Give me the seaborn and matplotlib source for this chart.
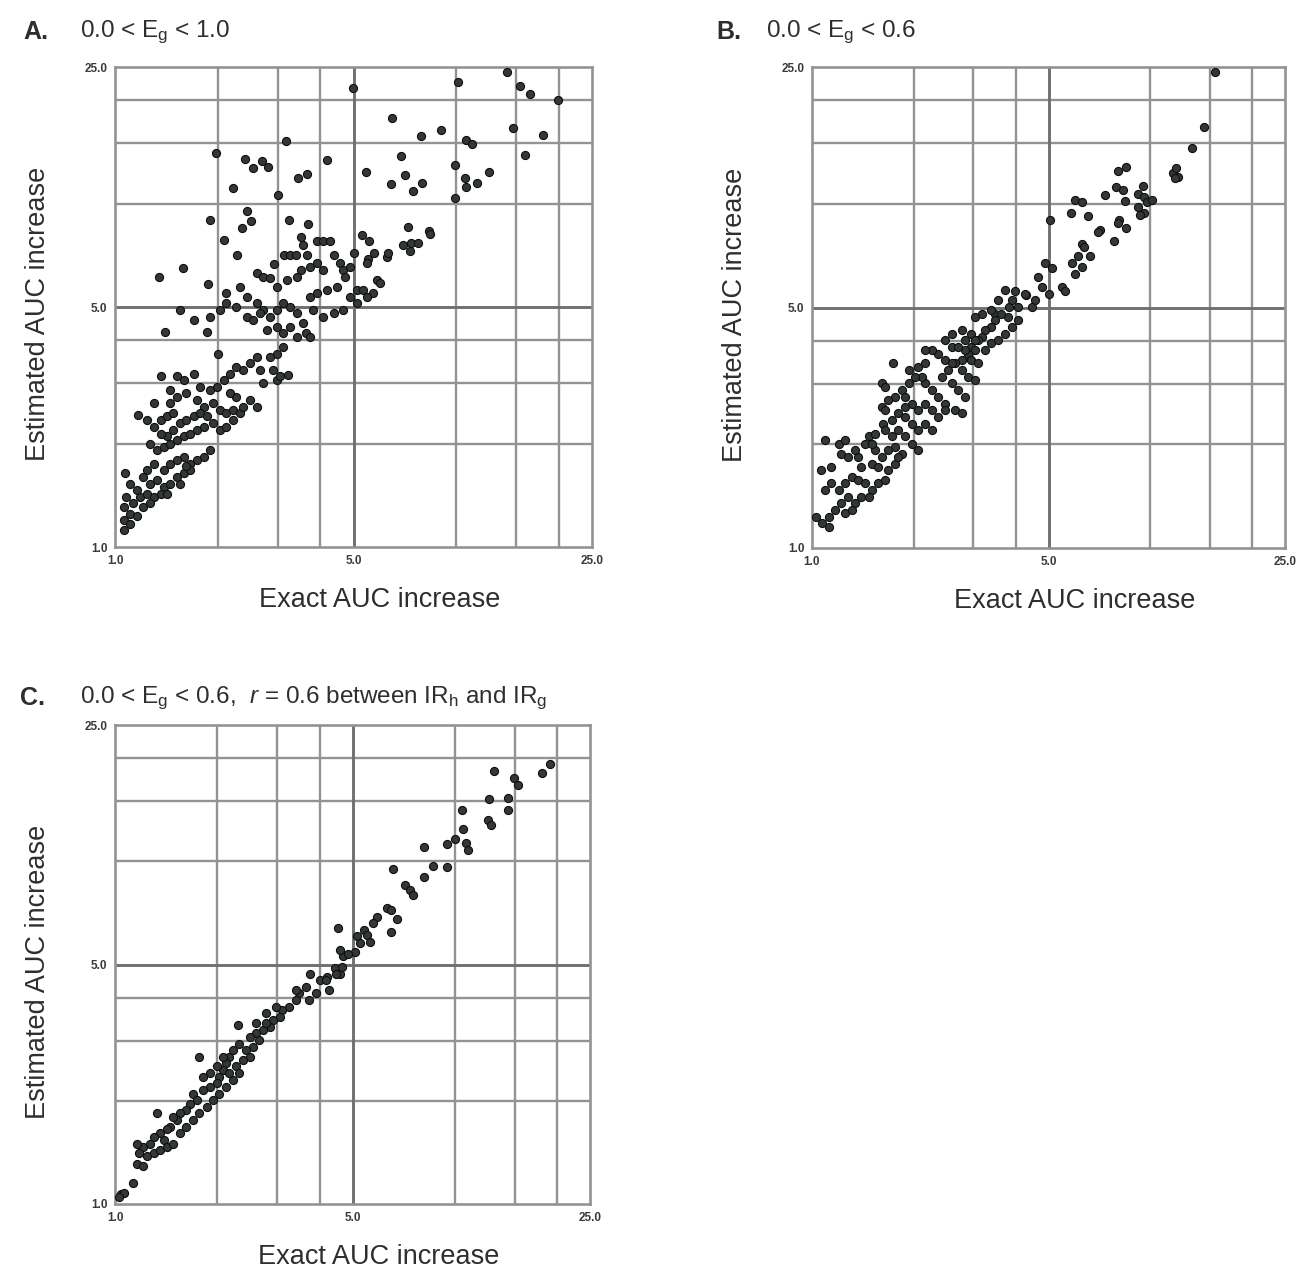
import numpy as np
import pandas as pd
import matplotlib
matplotlib.use('Agg')
import matplotlib.pyplot as plt
import seaborn as sns

sns.set_theme(style='white')
plt.rcParams['font.family'] = ['Liberation Sans', 'DejaVu Sans']
plt.rcParams['mathtext.fontset'] = 'custom'
plt.rcParams['mathtext.rm'] = 'Liberation Sans'
plt.rcParams['mathtext.it'] = 'Liberation Sans:italic'

# ---- panel A: 0.0 < Eg < 1.0 ----
a_exact = [4.97, 10.1, 14.1, 15.4, 16.5, 19.9, 6.5, 9.0, 7.9, 14.7, 18.0, 10.7, 11.1, 15.9,
           3.17, 1.98, 2.40, 2.54, 2.69, 2.81, 4.17, 3.44, 3.65, 5.43, 6.9, 7.06, 6.45, 7.45,
           7.95, 9.9, 10.6, 10.7, 11.5, 12.5, 9.9, 2.21, 3.0, 1.90, 2.43, 2.51, 2.36, 3.24,
           3.68, 2.09, 2.28, 1.35, 1.58, 1.87, 7.23, 8.35, 8.4,
           6.99, 7.39, 7.74, 7.30, 5.28, 5.56, 3.90, 4.08, 4.27, 3.52, 3.55, 3.12, 3.26, 3.40,
           3.65, 4.37, 5.0, 5.52, 5.74, 5.47, 6.27, 6.32, 2.92, 2.60, 2.72,
           2.85, 2.98, 3.19, 3.41, 3.52, 3.73, 3.90, 4.08, 4.56, 4.67, 4.72, 4.88, 4.46, 4.17,
           3.90, 3.73, 4.88, 5.11, 5.34, 5.84, 5.98, 5.71, 5.47, 5.11, 4.67, 4.37, 4.08, 3.81,
           3.56, 3.41, 3.26, 3.11, 2.98, 2.85, 2.72, 2.60, 2.43, 2.32, 2.12, 2.27, 1.90, 2.03,
           2.12, 1.55, 1.70, 1.86, 1.40, 2.01, 2.43, 2.54, 2.66, 2.78, 2.98, 3.11, 3.26, 3.41,
           3.64, 3.73, 3.11, 2.98, 2.85, 2.60, 2.66, 2.91, 2.98, 2.72, 3.22, 3.05, 2.49, 2.38,
           2.27, 2.17, 2.08, 1.99, 1.90, 1.77, 1.70, 1.59, 1.52, 1.36, 1.45, 1.52, 1.62, 1.74,
           1.82, 1.94, 2.03, 2.12, 2.22, 2.32, 2.38, 2.27, 2.17, 2.49, 2.60, 1.30, 1.45, 1.17,
           1.24, 1.30, 1.36, 1.42, 1.48, 1.55, 1.62, 1.70, 1.77, 1.86, 1.94, 2.03, 2.12, 2.22,
           1.48, 1.42, 1.36, 1.27, 1.33, 1.39, 1.45, 1.52, 1.59, 1.66, 1.74, 1.82, 1.90, 1.82,
           1.74, 1.66, 1.59, 1.52, 1.45, 1.39, 1.30, 1.24, 1.21, 1.27, 1.33, 1.39, 1.45, 1.52,
           1.59, 1.66, 1.55, 1.07, 1.11, 1.16, 1.08, 1.13, 1.18, 1.24, 1.30, 1.36, 1.06, 1.11,
           1.16, 1.06, 1.11, 1.06, 1.21, 1.27, 1.42, 1.62]
a_est = [21.7, 22.6, 24.1, 22.0, 20.8, 20.0, 17.8, 16.4, 15.7, 16.6, 15.8, 15.3, 14.9, 13.9,
         15.2, 14.0, 13.5, 12.7, 13.3, 12.8, 13.4, 11.9, 12.2, 12.4, 13.8, 12.1, 11.4, 10.9,
         11.5, 13.0, 11.9, 11.2, 11.5, 12.4, 10.4, 11.1, 10.6, 8.96, 9.5, 8.9, 8.5, 8.96,
         8.75, 7.86, 7.08, 6.13, 6.5, 5.84, 8.56, 8.35, 8.16,
         7.58, 7.66, 7.66, 7.26, 8.1, 7.76, 7.76, 7.76, 7.76, 8.0, 7.6, 7.08, 7.08, 7.08,
         7.08, 7.08, 7.17, 6.9, 7.17, 6.7, 7.0, 7.2, 6.68, 6.27, 6.13,
         6.06, 5.73, 5.99, 6.13, 6.41, 6.56, 6.71, 6.41, 6.71, 6.41, 6.13, 6.56, 5.73, 5.60,
         5.48, 5.36, 5.36, 5.60, 5.60, 5.99, 5.86, 5.48, 5.36, 5.13, 4.90, 4.79, 4.69, 4.90,
         4.48, 4.79, 5.01, 5.13, 4.90, 4.69, 4.90, 5.13, 5.36, 5.73, 5.48, 5.01, 4.69, 4.90,
         5.13, 4.90, 4.58, 4.24, 4.24, 3.66, 4.69, 4.58, 4.79, 4.28, 4.38, 4.19, 4.38, 4.10,
         4.19, 4.10, 3.83, 3.66, 3.58, 3.58, 3.28, 3.28, 3.07, 3.00, 3.17, 3.14, 3.43, 3.28,
         3.35, 3.20, 3.07, 2.93, 2.87, 2.93, 3.20, 3.07, 3.14, 3.14, 2.87, 2.74, 2.80, 2.68,
         2.56, 2.62, 2.51, 2.45, 2.51, 2.45, 2.56, 2.74, 2.80, 2.68, 2.56, 2.62, 2.62, 2.42,
         2.34, 2.24, 2.34, 2.40, 2.45, 2.29, 2.34, 2.40, 2.45, 2.40, 2.29, 2.19, 2.24, 2.34,
         2.19, 2.10, 2.14, 2.00, 1.92, 1.96, 2.00, 2.05, 2.10, 2.14, 2.19, 2.24, 1.92, 1.83,
         1.79, 1.75, 1.83, 1.79, 1.75, 1.68, 1.75, 1.68, 1.60, 1.53, 1.57, 1.50, 1.53, 1.60,
         1.64, 1.68, 1.53, 1.64, 1.53, 1.47, 1.40, 1.34, 1.40, 1.43, 1.40, 1.43, 1.31, 1.25,
         1.23, 1.20, 1.17, 1.12, 1.31, 1.34, 1.43, 1.72]

# ---- panel B: 0.0 < Eg < 0.6 ----
b_exact = [15.5, 14.4, 13.3, 11.7, 11.9, 12.1, 11.8, 8.04, 8.5, 7.94, 8.3, 9.5, 9.2, 9.6,
           9.8, 9.2, 9.6, 9.3, 10.1, 8.4, 7.35, 5.99, 6.27, 5.83, 6.55, 5.05, 8.1, 8.04,
           8.5, 7.1, 7.0, 7.8, 6.27, 6.35, 6.13, 6.62, 5.85, 6.27, 6.0, 5.48, 5.6,
           4.88, 5.11, 4.67, 4.77, 5.0, 4.55, 4.46, 3.98, 4.3, 3.81, 3.47,
           3.89, 4.07, 4.26, 3.71, 3.80, 3.55,
           3.63, 3.47, 3.39, 3.24, 3.17, 3.10, 2.96, 3.03, 2.90, 2.77, 2.83, 2.96, 3.10, 3.24,
           3.39, 3.55, 3.71, 3.89, 4.07, 2.47, 2.59, 2.70, 2.36, 2.47, 2.64, 2.77, 2.90, 3.03,
           2.53, 2.42, 2.59, 2.70, 2.83, 2.64, 2.77, 2.47, 2.36, 2.26, 2.16, 2.06, 2.16, 2.11,
           1.74, 1.61, 1.64, 1.84, 1.88, 1.61, 1.64, 1.62, 1.97, 2.06, 2.16, 2.26, 2.36, 2.47,
           1.88, 1.97, 2.06, 2.16, 2.26, 1.80, 1.72, 1.88, 1.97, 2.06, 1.84, 1.76, 1.68, 1.61,
           1.54, 1.47, 1.43, 1.50, 1.57, 1.68, 1.76, 1.80, 1.37, 1.40, 1.31, 1.37, 1.43, 1.50,
           1.57, 1.64, 1.25, 1.20, 1.14, 1.09, 1.28, 1.34, 1.40, 1.47, 1.22, 1.17, 1.12, 1.07,
           1.12, 1.03, 1.25, 1.31, 1.09, 1.20, 1.25, 1.22, 1.06, 1.14, 1.28, 1.50, 1.54, 1.34,
           1.64, 1.72, 1.80, 1.88, 1.76, 1.68, 1.93, 2.02, 1.93, 2.26, 2.16, 2.59, 2.77, 2.96,
           3.03, 2.83, 2.59, 3.39, 3.17, 3.03]
b_est = [24.2, 16.7, 14.5, 12.3, 12.7, 12.0, 11.9, 12.5, 12.8, 11.2, 11.0, 11.3, 10.7, 10.5,
         10.1, 9.8, 9.4, 9.3, 10.3, 10.2, 10.6, 10.3, 10.1, 9.4, 9.2, 9.0, 9.0, 8.8,
         8.5, 8.4, 8.3, 7.8, 7.67, 7.5, 7.06, 7.06, 6.72, 6.57, 6.27, 5.75, 5.6,
         6.72, 6.5, 6.14, 5.75, 5.48, 5.25, 5.02, 5.6, 5.43, 5.02, 4.8,
         5.25, 5.02, 5.49, 5.61, 4.69, 5.25,
         4.78, 4.59, 4.39, 4.29, 4.11, 4.02, 3.84, 3.76, 3.67, 3.51, 3.76, 3.51, 3.44, 3.76,
         3.93, 4.02, 4.20, 4.39, 4.59, 4.02, 3.84, 3.84, 3.67, 3.51, 3.44, 3.29, 3.14, 3.08,
         3.29, 3.14, 3.01, 2.88, 2.75, 2.52, 2.46, 2.63, 2.75, 2.88, 3.01, 3.36, 3.44, 3.14,
         3.44, 3.01, 2.94, 2.88, 2.75, 2.57, 2.52, 2.30, 2.63, 2.52, 2.63, 2.52, 2.41, 2.52,
         2.41, 2.30, 2.20, 2.30, 2.20, 2.20, 2.11, 2.11, 2.01, 1.93, 1.88, 1.97, 1.93, 1.84,
         1.93, 2.11, 2.01, 1.76, 1.72, 1.69, 1.76, 1.84, 1.84, 1.72, 1.61, 1.58, 1.54, 1.47,
         1.54, 1.58, 1.54, 1.47, 1.54, 1.47, 1.41, 1.35, 1.41, 1.41, 1.35, 1.29, 1.23, 1.18,
         1.15, 1.23, 1.26, 1.29, 2.06, 2.01, 2.06, 1.88, 1.69, 1.72, 1.84, 2.01, 2.15, 1.93,
         2.20, 2.35, 2.46, 2.57, 2.75, 2.69, 3.01, 3.14, 3.29, 3.76, 3.76, 4.20, 4.29, 4.20,
         4.02, 4.02, 3.44, 4.91, 4.80, 4.69]

# ---- panel C: 0.0 < Eg < 0.6, r = 0.6 between IRh and IRg ----
c_exact = [19.0, 18.1, 13.0, 14.9, 15.3, 12.6, 14.3, 14.3, 12.5, 12.8, 10.5, 10.6, 10.0, 9.5,
           10.8, 10.9, 8.1, 8.6, 9.5, 8.1, 6.6, 7.15, 7.4, 7.55, 6.33, 6.5, 6.74, 6.5,
           5.9, 5.75, 4.53, 5.16, 5.39, 5.5, 5.63, 5.26, 5.08, 4.70, 4.85, 4.6, 4.45, 4.6,
           4.2, 4.0, 3.76,
           3.64, 3.49, 3.41, 3.26, 3.11, 2.98, 3.05, 2.91, 2.78, 2.85, 2.72, 2.60, 2.66, 2.54,
           2.43, 2.49, 2.38, 2.30, 2.27, 2.17, 2.12, 2.08, 2.17, 2.03, 1.99, 1.90, 1.82, 1.77,
           1.70, 1.74, 1.66, 1.62, 1.55, 1.52, 1.48, 1.45, 1.42, 1.36, 1.33, 1.39, 1.30, 1.27,
           1.21, 1.16, 1.18, 1.24, 1.30, 1.36, 1.42, 1.48, 1.55, 1.62, 1.70, 1.77, 1.86, 1.94,
           2.03, 2.12, 2.22, 2.32, 1.16, 1.21, 1.13, 1.04, 1.06, 1.03, 1.90, 1.82, 1.99, 2.08,
           2.22, 2.32, 2.49, 2.60, 2.78, 3.41, 3.73, 3.90, 4.27, 4.17, 4.46, 4.67]
c_est = [19.3, 18.1, 18.3, 17.5, 16.7, 15.2, 15.3, 14.1, 13.2, 12.8, 14.1, 12.4, 11.6, 11.2,
         11.3, 10.8, 11.0, 9.7, 9.6, 9.0, 9.5, 8.55, 8.27, 7.99, 7.3, 7.2, 6.8, 6.2,
         6.9, 6.6, 6.4, 6.04, 6.3, 6.1, 5.82, 5.77, 5.45, 5.3, 5.37, 5.5, 4.9, 4.7,
         4.6, 4.5, 4.7,
         4.30, 4.12, 3.94, 3.76, 3.68, 3.76, 3.52, 3.44, 3.60, 3.29, 3.22, 3.15, 3.01, 2.88,
         2.82, 2.69, 2.63, 3.33, 2.52, 2.69, 2.58, 2.46, 2.41, 2.35, 2.25, 2.20, 2.15, 2.69,
         2.10, 2.01, 1.96, 1.88, 1.84, 1.76, 1.80, 1.68, 1.65, 1.61, 1.84, 1.54, 1.57, 1.50,
         1.47, 1.50, 1.41, 1.38, 1.41, 1.44, 1.47, 1.50, 1.61, 1.68, 1.76, 1.84, 1.92, 2.01,
         2.10, 2.20, 2.30, 2.41, 1.31, 1.29, 1.15, 1.07, 1.08, 1.05, 2.41, 2.35, 2.52, 2.69,
         2.82, 2.94, 3.08, 3.37, 3.37, 4.21, 3.94, 4.12, 4.21, 4.50, 4.70, 4.93]

panels = [
    ('A.', r'0.0 < E$_\mathregular{g}$ < 1.0', a_exact, a_est),
    ('B.', r'0.0 < E$_\mathregular{g}$ < 0.6', b_exact, b_est),
    ('C.', r'0.0 < E$_\mathregular{g}$ < 0.6,  $\it{r}$ = 0.6 between IR$_\mathregular{h}$ and IR$_\mathregular{g}$',
     c_exact, c_est),
]

W, H = 1302, 1279
# axes boxes in pixels: left, top, right, bottom
boxes = [(115, 67, 592, 547), (812, 67, 1285, 548), (115, 725, 590, 1204)]
# title positions in pixels: letter x, text x, y centre
title_pos = [(23, 80, 32), (716, 766, 32), (20, 80, 698)]

fig = plt.figure(figsize=(W / 100, H / 100), dpi=100)

grid_col = '#939393'
major_col = '#707070'
text_col = '#2e2e2e'

for (letter, ttl, ex, es), (l, t, r, b), (lx, tx, ty) in zip(panels, boxes, title_pos):
    ax = fig.add_axes([l / W, 1 - b / H, (r - l) / W, (b - t) / H])
    df = pd.DataFrame({'exact': ex, 'est': es})

    ax.set_xscale('log')
    ax.set_yscale('log')
    ax.set_xlim(1, 25)
    ax.set_ylim(1, 25)

    minor = [2, 3, 4, 10, 15, 20]
    for v in minor:
        ax.axvline(v, color=grid_col, lw=1.7, zorder=0)
        ax.axhline(v, color=grid_col, lw=1.7, zorder=0)
    ax.axvline(5, color=major_col, lw=2.1, zorder=0)
    ax.axhline(5, color=major_col, lw=2.1, zorder=0)

    sns.scatterplot(data=df, x='exact', y='est', ax=ax, s=34,
                    color='#343835', edgecolor='#0d0f0e', linewidth=0.8,
                    zorder=3, legend=False, clip_on=False)

    ax.set_xticks([1, 5, 25])
    ax.set_yticks([1, 5, 25])
    ax.set_xticks([], minor=True)
    ax.set_yticks([], minor=True)
    ax.set_xticklabels(['1.0', '5.0', '25.0'])
    ax.set_yticklabels(['1.0', '5.0', '25.0'])
    ax.tick_params(axis='both', which='major', direction='out', length=4, width=1.4,
                   color=grid_col, labelsize=8.5, labelcolor='#3a3a3a', pad=1.5)
    for lab in ax.get_xticklabels() + ax.get_yticklabels():
        lab.set_fontweight('bold')
    for sp in ax.spines.values():
        sp.set_color(grid_col)
        sp.set_linewidth(1.9)

    ax.set_xlabel('Exact AUC increase', fontsize=19.5, color=text_col)
    ax.set_ylabel('Estimated AUC increase', fontsize=19.5, color=text_col)
    ax.xaxis.set_label_coords(0.555, -0.083)
    ax.yaxis.set_label_coords(-0.135, 0.485)

    fig.text(lx / W, 1 - ty / H, letter, fontsize=18, fontweight='bold',
             color=text_col, va='center', ha='left')
    fig.text(tx / W, 1 - ty / H, ttl, fontsize=17.5, color=text_col,
             va='center', ha='left')

fig.savefig('out.png', dpi=100, facecolor='white')
